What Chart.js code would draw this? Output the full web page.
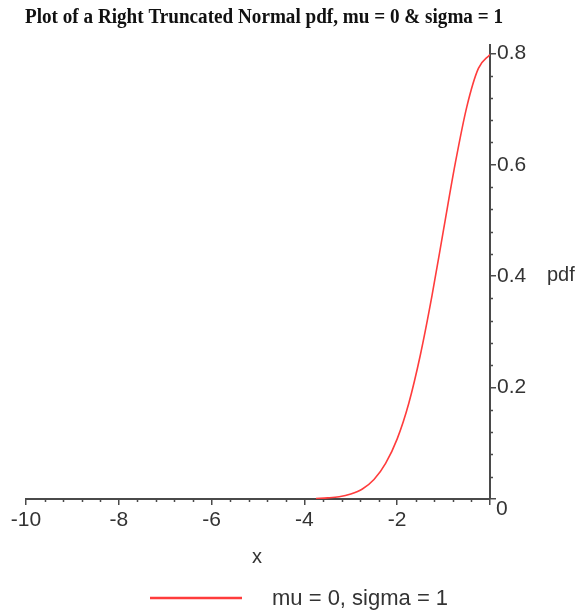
<!DOCTYPE html>
<html><head><meta charset="utf-8">
<script src="https://cdn.jsdelivr.net/npm/chart.js@4.4.0/dist/chart.umd.min.js"></script>
<style>html,body{margin:0;padding:0;background:#fff;}#wrap{width:582px;height:612px;}</style>
</head><body><div id="wrap"><canvas id="c" width="582" height="612"></canvas></div>
<script>
const titleText = "Plot of a Right Truncated Normal pdf, mu = 0 & sigma = 1";
const seriesLabel = "mu = 0, sigma = 1";
const xAxisTitle = "x";
const yAxisTitle = "pdf";
const xValues   = [-3.75, -3.5, -3.25, -3, -2.75, -2.5, -2.25, -2, -1.75, -1.5, -1.25, -1, -0.75, -0.5, -0.25, 0];
const pdfValues = [0.001, 0.002, 0.004, 0.009, 0.018, 0.035, 0.064, 0.108, 0.172, 0.259, 0.365, 0.484, 0.602, 0.704, 0.773, 0.798];
const xMajorTicks = [-10, -8, -6, -4, -2, 0];
const xMinorTicks = [-9.6,-9.2,-8.8,-8.4,-7.6,-7.2,-6.8,-6.4,-5.6,-5.2,-4.8,-4.4,-3.6,-3.2,-2.8,-2.4,-1.6,-1.2,-0.8,-0.4];
const yMajorTicks = [0, 0.2, 0.4, 0.6, 0.8];
const yMinorTicks = [0.04,0.08,0.12,0.16,0.24,0.28,0.32,0.36,0.44,0.48,0.52,0.56,0.64,0.68,0.72,0.76];

const AXIS = '#4a4a4a', TXT = '#333333', RED = '#ff3c3c';
const LBL_FONT = "21px 'Liberation Sans', Arial, sans-serif";

const decor = {
  id: 'decor',
  afterDraw(chart) {
    const ctx = chart.ctx, xs = chart.scales.x, ys = chart.scales.y, ca = chart.chartArea;
    ctx.save();
    // minor ticks
    ctx.strokeStyle = AXIS; ctx.lineWidth = 1.5;
    ctx.beginPath();
    xMinorTicks.forEach(v => { const p = Math.round(xs.getPixelForValue(v)) + 0.5; ctx.moveTo(p, ca.bottom); ctx.lineTo(p, ca.bottom + 3); });
    yMinorTicks.forEach(v => { const p = Math.round(ys.getPixelForValue(v)) + 0.5; ctx.moveTo(ca.right, p); ctx.lineTo(ca.right + 3, p); });
    ctx.stroke();
    // y "0" label, shifted below the x axis
    ctx.fillStyle = TXT; ctx.font = LBL_FONT; ctx.textAlign = 'left'; ctx.textBaseline = 'middle';
    ctx.fillText('0', ca.right + 6, ys.getPixelForValue(0) + 10);
    // axis titles
    ctx.font = "20px 'Liberation Sans', Arial, sans-serif";
    ctx.textAlign = 'center';
    ctx.fillText(xAxisTitle, 257, 557);
    ctx.textAlign = 'left';
    ctx.fillText(yAxisTitle, 547, ys.getPixelForValue(0.4) - 1);
    // title (condensed bold serif)
    ctx.font = "bold 20px 'Liberation Serif', 'Times New Roman', serif";
    ctx.fillStyle = '#111';
    const w = ctx.measureText(titleText).width;
    const target = 478;
    ctx.save();
    ctx.translate(264, 18);
    ctx.scale(target / w, 1);
    ctx.textAlign = 'center'; ctx.textBaseline = 'middle';
    ctx.fillText(titleText, 0, 0);
    ctx.restore();
    // legend
    const ds = chart.data.datasets[0];
    ctx.strokeStyle = ds.borderColor; ctx.lineWidth = 2.5;
    ctx.beginPath(); ctx.moveTo(150, 598); ctx.lineTo(242, 598); ctx.stroke();
    ctx.fillStyle = TXT; ctx.font = "22px 'Liberation Sans', Arial, sans-serif"; ctx.textAlign = 'left'; ctx.textBaseline = 'middle';
    ctx.fillText(ds.label, 272, 599);
    ctx.restore();
  }
};

new Chart(document.getElementById('c'), {
  type: 'line',
  data: {
    datasets: [{
      label: seriesLabel,
      data: xValues.map((x, i) => ({ x: x, y: pdfValues[i] })),
      borderColor: RED,
      backgroundColor: RED,
      borderWidth: 1.6,
      pointRadius: 0,
      fill: false,
      cubicInterpolationMode: 'monotone'
    }]
  },
  options: {
    responsive: false,
    devicePixelRatio: 1,
    animation: false,
    layout: { padding: { left: 26, top: 45, right: 0, bottom: 0 } },
    plugins: { legend: { display: false }, title: { display: false }, tooltip: { enabled: false } },
    scales: {
      x: {
        type: 'linear', position: 'bottom', min: -10, max: 0,
        afterBuildTicks: s => { s.ticks = xMajorTicks.map(v => ({ value: v })); },
        afterFit: s => { s.height = 113; },
        grid: { drawOnChartArea: false, drawTicks: true, tickLength: 6, color: AXIS, lineWidth: 1.5 },
        border: { display: true, color: AXIS, width: 2 },
        ticks: { autoSkip: false, maxRotation: 0, padding: 3, color: TXT,
                 font: { family: "'Liberation Sans', Arial, sans-serif", size: 21 },
                 callback: v => (v === 0 ? '' : String(v)) }
      },
      y: {
        type: 'linear', position: 'right', min: 0, max: 0.815,
        afterBuildTicks: s => { s.ticks = yMajorTicks.map(v => ({ value: v })); },
        afterFit: s => { s.width = 92; },
        grid: { drawOnChartArea: false, drawTicks: true, tickLength: 6, color: AXIS, lineWidth: 1.5 },
        border: { display: true, color: AXIS, width: 2 },
        ticks: { autoSkip: false, padding: 1, color: TXT,
                 font: { family: "'Liberation Sans', Arial, sans-serif", size: 21 },
                 callback: v => (v === 0 ? '' : v.toFixed(1)) }
      }
    }
  },
  plugins: [decor]
});
</script></body></html>
